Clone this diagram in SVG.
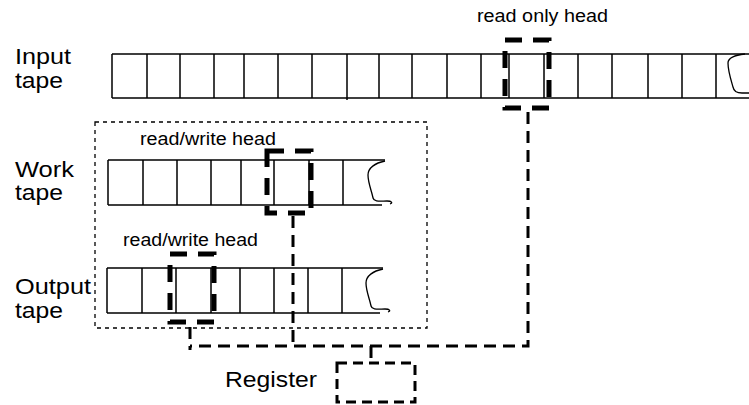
<svg xmlns="http://www.w3.org/2000/svg" width="749" height="405" viewBox="0 0 749 405">
<style>
.bg{fill:#fff}
.tape{fill:none;stroke:#000;stroke-width:1.5}
.curl{fill:none;stroke:#000;stroke-width:1.3}
.head{fill:none;stroke:#000;stroke-width:5;stroke-dasharray:17 11}
.conn{fill:none;stroke:#000;stroke-width:3;stroke-dasharray:12 7}
.box{fill:none;stroke:#000;stroke-width:3;stroke-dasharray:10 6}
.dot{fill:none;stroke:#000;stroke-width:1.3;stroke-dasharray:4 4}
.lbl{font-family:"Liberation Sans",Arial,sans-serif;font-size:22px;fill:#000}
.hl{font-family:"Liberation Sans",Arial,sans-serif;font-size:17.5px;fill:#000}
</style>
<rect class="bg" x="0" y="0" width="749" height="405"/>
<g id="container">
<rect class="dot" x="95" y="122" width="332" height="206"/>
</g>
<g id="input-tape">
<text class="lbl" x="15" y="64" textLength="56" lengthAdjust="spacingAndGlyphs">Input</text>
<text class="lbl" x="15" y="88" textLength="48" lengthAdjust="spacingAndGlyphs">tape</text>
<path class="tape" d="M112,54 H749 M112,98 H749 M112,54 V98 M147,54 V98 M180,54 V98 M214,54 V98 M244,54 V98 M278,54 V98 M312,54 V98 M347,54 V100 M379,54 V98 M412,54 V98 M447,54 V98 M481,54 V98 M509,54 V98 M544,54 V98 M578,54 V98 M612,54 V98 M648,54 V98 M682,54 V98 M716,54 V98"/>
<path class="curl" d="M745,54 C736,55 728,58 728,63 C728,71 731,80 733,87 C734,92 737,93 742,93 L749,93"/>
</g>
<g id="input-head">
<text class="hl" x="477" y="22" textLength="131" lengthAdjust="spacingAndGlyphs">read only head</text>
<rect class="head" x="505" y="40" width="44" height="68"/>
</g>
<g id="work-tape">
<text class="lbl" x="15" y="177" textLength="59" lengthAdjust="spacingAndGlyphs">Work</text>
<text class="lbl" x="15" y="200" textLength="48" lengthAdjust="spacingAndGlyphs">tape</text>
<path class="tape" d="M108,160 H385 M108,205 H382 M108,160 V205 M143,160 V205 M177,160 V205 M211,160 V205 M241,160 V205 M274,160 V205 M309,160 V205 M343,160 V205"/>
<path class="curl" d="M385,161 C375,163 368,168 368,175 C368,183 372,192 373,198 C374,202 380,201 387,201 C392,201 393,203 390,204"/>
</g>
<g id="work-head">
<text class="hl" x="140" y="145" textLength="136" lengthAdjust="spacingAndGlyphs">read/write head</text>
<rect class="head" x="267" y="151" width="44" height="62"/>
</g>
<g id="output-tape">
<text class="lbl" x="15" y="294" textLength="76" lengthAdjust="spacingAndGlyphs">Output</text>
<text class="lbl" x="15" y="318" textLength="48" lengthAdjust="spacingAndGlyphs">tape</text>
<path class="tape" d="M107,268 H383 M107,313 H380 M107,268 V313 M142,268 V313 M176,268 V313 M211,268 V313 M240,268 V313 M274,268 V313 M308,268 V313 M342,268 V313"/>
<path class="curl" d="M383,269 C373,271 366,276 366,283 C366,291 370,300 371,306 C372,310 378,309 385,309 C390,309 391,311 388,312"/>
</g>
<g id="output-head">
<text class="hl" x="123" y="246" textLength="135" lengthAdjust="spacingAndGlyphs">read/write head</text>
<rect class="head" x="170" y="254" width="44" height="68"/>
</g>
<g id="register">
<text class="lbl" x="225" y="387" textLength="92" lengthAdjust="spacingAndGlyphs">Register</text>
<rect class="box" x="337" y="363" width="78" height="39"/>
</g>
<g id="connectors">
<path class="conn" d="M528,112 V346 H190"/>
<path class="conn" d="M190,327 V350"/>
<path class="conn" d="M293,216 V347"/>
<path class="conn" d="M371,346 V360"/>
</g>
</svg>
